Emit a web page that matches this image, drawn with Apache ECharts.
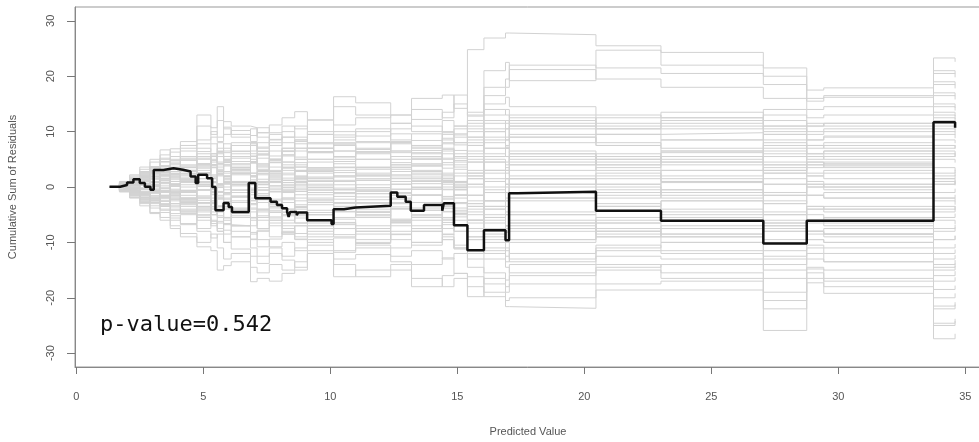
<!DOCTYPE html>
<html lang="en">

<head>
    <meta charset="UTF-8">
    <title>Cumulative Sum of Residuals</title>
    <script src="https://cdn.jsdelivr.net/npm/echarts@6.0.0/dist/echarts.min.js"></script>
    <style>
        body { margin: 0; background: #fff; }
    </style>
</head>

<body>
    <div id="main" style="width: 979px;height:442px;"></div>

    <script type="text/javascript">
        // tick labels
        let xTicks = [0, 5, 10, 15, 20, 25, 30, 35];
        let yTicks = [-30, -20, -10, 0, 10, 20, 30];

        // observed cumulative residuals (step starts at each x)
        let obsX = [1.31, 1.73, 2.0, 2.25, 2.5, 2.7, 2.92, 3.05, 3.43, 3.83, 4.2, 4.5, 4.7, 4.8, 5.15, 5.35, 5.48, 5.8, 6.0, 6.13,
            6.79, 7.05, 7.65, 7.9, 8.1, 8.3, 8.36, 8.42, 8.68, 8.74, 9.09, 10.05, 10.13, 10.54, 11.0, 12.38, 12.64, 12.97, 13.17, 13.69,
            14.41, 14.47, 14.87, 15.4, 16.05, 16.9, 17.04, 17.37, 20.46, 23.02, 27.05, 28.76, 33.75, 34.6];
        let obsY = [0.05, 0.36, 0.8, 1.4, 0.7, 0.05, -0.5, 3.07, 3.4, 3.1, 2.8, 1.9, 0.7, 2.2, 1.6, 0.0, -4.2, -2.9, -3.6, -4.5,
            0.7, -2.05, -2.65, -3.25, -3.85, -4.5, -5.4, -4.5, -5.1, -4.6, -6.0, -6.7, -4.0, -3.7, -3.4, -1.0, -1.75, -2.65, -4.3, -3.25,
            -4.3, -2.95, -6.9, -11.4, -7.8, -9.6, -1.15, -0.85, -4.3, -6.1, -10.2, -6.1, 11.7, 10.7];

        // simulated paths share these breakpoints
        let simX = [1.3, 1.7, 2.1, 2.5, 2.9, 3.3, 3.7, 4.1, 4.75, 5.3, 5.55, 5.8, 6.1, 6.86, 7.12, 7.6, 8.1, 8.6, 9.1, 10.13,
            11.0, 12.38, 13.2, 14.41, 14.87, 15.4, 16.05, 16.9, 17.05, 20.46, 23.02, 27.05, 28.76, 29.43, 33.75, 34.6];

        let sim01 = [0, 0.6, 1.8, 3.2, 4.5, 5.8, 6.9, 8.2, 13.0, 10.7, 14.5, 11.8, 11.0, 10.7, 9.8, 11.2, 12.5, 13.6, 12.1, 16.3, 15.2, 13.0, 16.0, 16.6, 14.2, 24.8, 26.9, 27.8, 27.5, 25.5, 24.3, 21.5, 17.5, 17.9, 23.3, 22.6];
        let sim02 = [0, -0.7, -1.9, -3.0, -4.6, -5.5, -7.0, -8.4, -10.8, -11.5, -15.0, -14.2, -13.5, -17.1, -16.5, -17.0, -15.6, -15.0, -12.0, -16.2, -15.0, -14.0, -18.0, -16.0, -15.6, -16.2, -19.8, -21.6, -21.9, -18.6, -18.6, -25.9, -17.3, -19.2, -27.4, -26.5];
        let sim03 = [0, 0.9, 1.5, 2.8, 3.6, 5.2, 4.8, 6.5, 7.8, 9.0, 8.2, 9.5, 10.2, 9.3, 10.7, 9.8, 11.0, 10.5, 12.1, 11.2, 12.5, 13.0, 12.2, 13.5, 16.6, 12.8, 21.0, 22.5, 19.2, 24.7, 22.0, 20.0, 15.5, 16.2, 21.0, 20.4];
        let sim04 = [0, -0.5, -1.2, -2.4, -3.8, -4.2, -5.6, -6.8, -8.0, -9.2, -8.5, -10.0, -11.2, -12.5, -13.8, -12.0, -13.2, -14.5, -11.5, -13.0, -12.2, -13.5, -14.0, -12.8, -15.6, -19.8, -16.5, -18.0, -17.5, -14.0, -15.5, -22.0, -14.8, -16.5, -24.6, -23.8];
        let sim05 = [0, 0.4, 1.0, 2.0, 3.0, 3.8, 4.5, 5.2, 6.0, 5.5, 7.0, 6.2, 7.5, 8.0, 7.2, 8.5, 9.0, 8.2, 9.5, 10.0, 9.2, 10.5, 11.0, 9.8, 10.5, 12.0, 15.0, 16.2, 14.5, 13.0, 12.5, 11.0, 9.5, 10.0, 14.5, 13.8];
        let sim06 = [0, -0.3, -0.9, -1.8, -2.5, -3.4, -4.0, -4.8, -5.5, -6.2, -7.5, -6.8, -7.0, -8.5, -7.8, -9.0, -8.2, -9.5, -10.0, -9.2, -10.5, -11.0, -10.0, -9.5, -11.2, -13.0, -15.5, -16.8, -14.0, -12.5, -13.0, -15.0, -12.0, -13.5, -18.5, -17.8];
        let sim07 = [0, 0.5, 0.2, 1.2, 2.2, 1.5, 2.8, 3.5, 2.6, 4.0, 3.2, 4.5, 5.2, 4.3, 5.8, 6.5, 5.6, 7.0, 6.2, 7.5, 6.8, 8.0, 7.2, 8.5, 7.6, 9.0, 11.5, 12.0, 10.5, 9.5, 9.8, 8.5, 7.0, 7.5, 11.0, 10.4];
        let sim08 = [0, -0.6, -0.3, -1.4, -0.8, -2.0, -1.2, -2.6, -3.5, -2.8, -4.2, -3.5, -4.8, -4.0, -5.5, -4.6, -6.0, -5.2, -6.5, -5.8, -7.0, -6.2, -7.5, -6.8, -8.0, -9.5, -11.0, -12.5, -10.0, -9.0, -8.5, -11.5, -9.5, -10.0, -14.0, -13.2];
        let sim09 = [0, 0.7, 1.2, 0.6, 1.8, 2.5, 1.8, 3.0, 4.2, 3.5, 2.8, 4.0, 3.2, 2.5, 3.8, 3.0, 4.5, 3.6, 2.8, 4.2, 3.5, 5.0, 4.2, 3.4, 4.8, 6.5, 8.0, 7.2, 6.0, 5.0, 6.2, 4.0, 3.5, 4.2, 6.5, 5.9];
        let sim10 = [0, -0.4, -1.0, -0.5, -1.6, -1.0, -2.2, -1.5, -2.8, -2.0, -3.4, -2.6, -1.8, -3.0, -2.2, -3.6, -2.8, -4.0, -3.2, -4.5, -3.6, -2.8, -4.2, -3.4, -4.8, -6.0, -7.5, -8.2, -6.5, -5.5, -6.0, -7.0, -5.0, -5.8, -9.5, -8.8];
        let sim11 = [0, 0.3, 0.8, 1.5, 0.8, 2.0, 3.2, 2.4, 3.8, 5.0, 4.2, 5.5, 4.6, 6.0, 5.2, 4.4, 5.8, 7.0, 6.2, 7.8, 7.0, 6.2, 7.5, 8.8, 8.0, 10.5, 13.0, 14.0, 12.5, 11.0, 12.0, 10.5, 8.5, 9.0, 13.0, 12.3];
        let sim12 = [0, -0.8, -1.5, -2.6, -2.0, -3.5, -4.8, -4.0, -5.5, -7.0, -6.2, -7.8, -9.0, -8.2, -9.5, -10.8, -10.0, -11.5, -10.5, -11.8, -11.0, -12.5, -11.5, -13.0, -12.0, -14.5, -17.5, -19.0, -16.0, -15.0, -16.5, -19.0, -15.5, -17.0, -22.0, -21.2];
        let sim13 = [0, 0.6, 1.4, 2.4, 3.5, 4.5, 5.5, 7.0, 8.5, 10.0, 9.0, 10.8, 9.5, 8.2, 9.8, 8.6, 10.0, 9.0, 7.8, 9.4, 8.2, 9.6, 8.4, 10.0, 9.0, 11.0, 14.0, 13.0, 11.5, 10.5, 11.0, 9.5, 8.5, 9.2, 12.5, 11.8];
        let sim14 = [0, 0.2, -0.5, 0.5, -0.8, 0.6, -1.0, 1.2, -0.5, 1.5, 0.3, -1.2, 0.8, -0.6, 1.4, 0.2, -1.0, 0.5, 1.8, 0.4, -0.8, 1.0, -0.4, 1.2, 0.0, 2.0, -2.5, -1.0, 1.5, 0.5, -1.5, 2.5, 1.0, 0.5, -4.0, -3.4];
        let sim15 = [0, -0.2, 0.6, -0.4, 1.0, -0.2, 1.6, 0.4, 2.2, 0.8, 2.8, 1.5, 0.2, 2.0, 0.8, 2.5, 1.2, 3.0, 1.6, 3.5, 2.2, 4.0, 2.8, 1.5, 3.2, 5.0, 3.0, 4.5, 6.0, 4.0, 5.5, 3.0, 4.5, 3.8, 8.5, 7.9];
        let sim16 = [0, 0.5, 1.5, 2.0, 3.5, 3.0, 2.0, 3.5, 5.0, 4.0, 6.5, 5.0, 3.5, 5.5, 4.0, 2.5, 4.0, 2.8, 4.5, 3.0, 1.5, 3.2, 1.8, 0.5, 2.0, 4.5, 1.0, 2.5, 5.0, 3.0, 2.0, 4.5, 2.5, 3.0, 0.5, 1.0];
        let sim17 = [0, -0.5, -1.5, -1.0, -2.5, -1.5, -3.0, -4.5, -3.0, -5.0, -3.5, -2.0, -4.0, -2.5, -4.5, -3.0, -5.0, -6.5, -5.0, -3.5, -5.5, -4.0, -6.0, -4.5, -3.0, -6.0, -3.5, -5.0, -8.0, -6.5, -7.5, -4.5, -6.0, -5.5, -12.0, -11.3];
        let sim18 = [0, 0.8, 0.2, 1.8, 1.0, 2.8, 4.0, 3.0, 5.5, 4.0, 2.5, 4.5, 6.0, 4.5, 3.0, 5.0, 6.5, 5.0, 7.0, 5.5, 8.0, 6.5, 5.0, 7.0, 5.5, 8.5, 6.0, 7.5, 9.5, 8.0, 7.0, 9.5, 7.5, 8.0, 15.0, 14.3];
        let sim19 = [0, -0.7, 0.0, -1.2, -2.5, -1.5, -3.0, -2.0, -4.0, -2.5, -1.0, -3.0, -4.5, -3.0, -1.5, -3.5, -2.0, -0.5, -2.5, -1.0, -3.0, -1.5, 0.0, -2.0, -0.5, -3.5, -6.0, -4.5, -2.0, -3.5, -4.5, -2.5, -4.0, -3.5, -7.5, -6.8];
        let sim20 = [0, 0.3, 1.2, 0.5, 1.5, 0.2, 1.8, 3.0, 1.5, 3.5, 2.0, 0.5, 2.5, 1.0, 2.8, 4.5, 3.0, 1.5, 3.5, 5.0, 3.5, 5.5, 4.0, 6.0, 4.5, 2.5, 5.5, 7.0, 4.0, 5.5, 6.5, 4.0, 5.5, 5.0, 2.0, 2.7];
        let sim21 = [0, -0.3, -1.1, -0.4, -1.6, -2.6, -1.5, -3.2, -2.0, -4.0, -5.5, -4.0, -2.5, -4.5, -6.0, -4.5, -6.5, -5.0, -7.0, -5.5, -4.0, -6.0, -7.5, -5.5, -7.0, -4.5, -8.0, -9.5, -7.0, -8.5, -7.5, -10.0, -8.0, -8.5, -3.5, -4.2];
        let sim22 = [0, 0.6, 1.6, 2.6, 1.8, 3.2, 2.2, 4.0, 2.5, 4.5, 6.0, 4.5, 6.5, 8.0, 6.5, 5.0, 7.0, 8.5, 7.0, 9.0, 10.5, 8.5, 7.0, 9.5, 11.0, 9.0, 12.0, 10.5, 8.0, 9.5, 8.5, 11.0, 10.0, 10.5, 16.5, 15.8];
        let sim23 = [0, -0.6, -1.6, -2.8, -1.8, -3.5, -2.5, -4.5, -6.0, -4.5, -6.5, -8.5, -7.0, -9.5, -8.0, -6.5, -8.5, -7.0, -9.0, -7.5, -9.5, -8.0, -10.0, -8.5, -10.5, -12.0, -9.5, -11.0, -13.5, -11.5, -12.0, -14.0, -13.0, -13.5, -20.0, -19.2];
        let sim24 = [0, 0.2, 0.7, -0.2, 0.9, 2.0, 1.0, 0.0, 1.5, 0.2, -1.5, 0.0, -1.8, -0.5, -2.2, -0.8, 0.8, -0.8, 1.0, -0.5, 1.2, -0.4, 1.5, 0.0, -1.5, -3.5, -1.0, 0.5, -2.0, -0.5, 0.8, -1.5, 0.0, -0.5, 5.0, 4.4];
        let sim25 = [0, -0.1, -0.8, 0.3, -0.6, 0.8, 2.2, 1.0, -0.5, 1.0, 2.5, 1.0, -0.5, -2.0, -0.5, -2.2, -0.8, 0.8, -1.0, -2.8, -1.2, 0.5, -1.5, -3.0, -1.5, 0.5, -2.5, -1.0, 1.5, 2.5, 1.0, 3.5, 2.0, 2.5, -2.0, -1.4];
        let sim26 = [0, 0.4, 1.3, 2.2, 3.2, 4.6, 3.5, 5.5, 7.0, 6.0, 8.0, 7.0, 5.5, 7.5, 6.0, 8.0, 6.5, 8.5, 10.0, 8.5, 10.0, 11.5, 10.0, 12.0, 11.0, 13.5, 18.0, 19.5, 21.2, 19.5, 18.0, 16.0, 14.0, 14.5, 19.0, 18.4];
        let sim27 = [0, -0.4, -1.3, -2.3, -3.4, -4.6, -6.0, -5.0, -7.5, -6.0, -8.0, -10.0, -9.0, -11.0, -12.5, -11.0, -12.5, -11.0, -9.5, -11.5, -10.0, -8.5, -10.5, -9.0, -11.0, -9.0, -12.0, -13.5, -12.0, -10.5, -11.5, -13.0, -11.0, -12.0, -16.0, -15.2];
        let sim28 = [0, 0.7, 0.0, 1.3, 0.4, -0.6, 0.6, -0.8, 0.8, -1.0, 0.5, 2.0, 0.8, 2.5, 1.0, -0.5, 1.2, 2.8, 1.5, 3.5, 2.0, 0.5, 2.2, 0.8, 2.5, 0.0, 3.0, 1.5, -1.0, -2.0, -0.5, -3.0, -1.5, -2.0, 2.5, 3.1];
        let sim29 = [0, -0.2, 0.5, 1.4, 2.4, 1.5, 0.4, 1.6, 3.0, 1.5, 0.0, 1.8, 3.5, 2.0, 0.5, 2.2, 0.8, -0.8, 1.0, -0.5, 1.2, 2.8, 1.0, 2.5, 4.0, 6.0, 8.5, 7.0, 9.0, 7.5, 6.5, 8.0, 6.0, 6.5, 10.5, 9.9];
        let sim30 = [0, 0.1, -0.6, -1.5, -0.5, -1.8, -3.0, -2.0, -3.5, -5.0, -3.5, -5.5, -4.0, -5.5, -4.0, -2.5, -4.0, -2.5, -1.0, -2.8, -1.2, -3.0, -1.5, -3.2, -4.8, -7.5, -10.0, -11.5, -13.0, -11.0, -10.0, -12.5, -10.5, -11.0, -6.0, -6.7];
        let sim31 = [0, 1.0, 2.2, 3.6, 5.0, 6.7, 5.5, 7.5, 11.0, 9.5, 12.0, 10.5, 9.0, 10.5, 9.0, 7.5, 9.0, 11.0, 9.5, 14.5, 13.0, 11.5, 14.0, 12.5, 15.0, 13.0, 16.5, 18.0, 22.0, 21.5, 20.5, 18.5, 16.0, 16.5, 20.5, 19.8];
        let sim32 = [0, -0.9, -2.0, -3.4, -4.8, -6.0, -7.5, -9.0, -10.0, -8.5, -11.0, -13.0, -12.0, -14.5, -15.5, -14.0, -15.0, -13.5, -12.0, -14.0, -16.2, -15.0, -16.5, -18.0, -16.5, -18.0, -19.0, -20.5, -20.0, -17.5, -17.0, -20.5, -16.5, -18.0, -25.0, -24.2];
        let sim33 = [0, 0.5, 1.1, 0.4, -0.6, -1.8, -0.8, -2.2, -3.8, -2.5, -4.0, -5.5, -7.0, -5.5, -7.5, -6.0, -4.5, -6.5, -5.0, -6.8, -8.5, -7.0, -5.5, -7.5, -6.0, -8.0, -5.0, -3.5, -6.5, -8.0, -9.0, -7.0, -8.5, -9.0, -14.5, -13.8];
        let sim34 = [0, -0.5, -0.1, 1.0, 2.0, 3.0, 4.2, 5.5, 4.0, 5.5, 4.0, 2.5, 4.0, 5.5, 4.2, 2.8, 4.5, 3.0, 5.0, 6.5, 5.0, 3.5, 5.5, 4.0, 5.5, 7.5, 10.0, 8.5, 11.0, 12.5, 13.5, 12.0, 11.0, 11.5, 17.0, 16.4];
        let sim35 = [0, 0.3, -0.3, -1.2, -2.2, -3.2, -2.0, -3.5, -5.0, -3.5, -2.0, -3.8, -5.5, -7.0, -5.5, -7.0, -8.5, -7.0, -8.5, -6.5, -8.0, -9.5, -8.0, -9.5, -11.0, -9.5, -13.0, -14.5, -15.5, -14.5, -14.0, -16.5, -14.5, -15.0, -21.5, -20.8];
        let sim36 = [0, 0.9, 2.0, 1.2, 2.5, 3.8, 2.5, 1.0, 2.5, 4.0, 5.5, 4.0, 2.5, 1.0, 2.5, 1.0, 2.5, 4.0, 2.5, 1.0, 2.5, 4.0, 2.5, 1.0, -0.5, 1.5, 4.5, 3.0, 0.5, 1.5, 3.0, 0.5, 2.0, 1.5, 7.5, 6.9];
        let sim37 = [0, -0.8, -1.8, -0.8, -2.0, -0.8, 0.5, -1.0, 0.5, 2.0, 0.5, -1.0, 0.5, 2.0, 0.5, 2.0, 3.5, 2.0, 0.5, 2.0, 3.5, 2.0, 3.8, 2.2, 0.8, -1.5, -4.0, -2.5, -5.0, -3.5, -2.5, -5.0, -3.5, -4.0, -9.5, -8.8];
        let sim38 = [0, 0.4, 1.0, 2.0, 3.0, 2.0, 3.5, 2.0, 4.0, 6.0, 4.5, 6.5, 8.0, 6.5, 8.0, 9.5, 8.0, 6.5, 8.0, 6.5, 5.0, 6.5, 5.0, 6.5, 8.0, 10.0, 7.0, 8.5, 11.0, 9.5, 10.5, 13.0, 11.0, 11.5, 7.0, 7.6];
        let sim39 = [0, -0.3, -0.9, -1.9, -1.0, -2.4, -3.6, -2.4, -4.5, -3.0, -4.5, -6.0, -4.5, -6.0, -7.5, -6.0, -7.5, -9.0, -7.5, -9.0, -7.5, -6.0, -7.5, -6.0, -4.5, -2.5, -5.5, -7.0, -4.5, -3.0, -4.0, -6.0, -4.0, -4.5, 1.0, 0.3];
        let sim40 = [0, 0.2, 0.9, 1.9, 0.9, 2.3, 1.0, 2.5, 1.0, -0.5, -2.0, -0.5, 1.0, -0.5, -2.0, -3.5, -2.0, -3.5, -5.0, -3.5, -5.0, -6.5, -5.0, -3.5, -5.0, -3.0, -0.5, -2.0, 0.5, 2.0, 1.0, -1.5, 0.5, 0.0, -5.5, -4.8];
        let sim41 = [0, 0.3, 0.6, 1.2, 1.9, 1.2, 2.4, 1.4, 0.4, 1.8, 0.6, 2.0, 3.2, 1.8, 3.0, 1.6, 0.2, 1.6, 0.2, -1.2, 0.4, -1.0, 0.6, 2.0, 0.5, 3.0, 5.0, 3.5, 2.0, 3.5, 4.5, 2.5, 4.0, 3.5, 9.5, 8.8];
        let sim42 = [0, -0.2, -0.7, -1.4, -0.6, -1.6, -0.6, -2.0, -0.6, 0.8, -0.8, 0.6, -1.0, 0.4, -1.2, 0.2, 1.6, 0.2, -1.4, -0.2, -1.8, -0.4, 1.0, -0.5, 1.0, -1.5, 1.5, 0.0, -2.5, -1.0, -2.0, 0.5, -1.5, -1.0, 3.5, 2.8];
        let sim43 = [0, 0.5, 1.2, 2.2, 3.4, 2.2, 3.6, 4.8, 3.4, 4.8, 6.2, 4.8, 3.2, 4.6, 3.2, 4.8, 3.4, 1.8, 3.4, 2.0, 3.6, 2.2, 3.8, 5.2, 3.6, 5.5, 2.5, 4.0, 6.5, 5.0, 4.0, 6.5, 5.0, 5.5, 12.0, 11.3];
        let sim44 = [0, -0.6, -1.3, -2.1, -3.0, -2.0, -3.4, -2.2, -3.6, -5.0, -3.6, -2.2, -3.8, -2.4, -4.0, -5.4, -4.0, -5.6, -4.2, -2.8, -4.4, -5.8, -4.2, -5.8, -4.2, -6.5, -9.0, -7.5, -5.0, -6.5, -5.5, -8.0, -6.5, -7.0, -13.0, -12.3];
        let sim45 = [0, 0.1, 0.5, 1.0, 0.3, -0.6, -1.6, -0.6, -2.0, -0.8, -2.2, -1.0, 0.4, -1.0, 0.4, 1.8, 0.4, 1.8, 3.2, 1.8, 3.2, 1.6, 3.0, 1.6, 0.2, 2.5, 0.0, 1.5, 4.0, 5.5, 4.5, 7.0, 5.5, 6.0, 0.5, 1.2];
        let sim46 = [0, -0.4, -0.2, 0.6, 1.4, 2.6, 1.4, 2.8, 4.2, 5.6, 4.2, 2.8, 4.2, 5.6, 7.0, 5.6, 7.0, 5.4, 7.0, 5.4, 6.8, 8.2, 6.6, 5.0, 6.6, 4.5, 7.0, 5.5, 3.0, 4.5, 5.5, 3.0, 4.5, 4.0, 10.0, 9.4];
        let sim47 = [0, 0.4, -0.2, -1.0, -2.0, -3.0, -4.2, -3.0, -1.6, -3.0, -4.4, -3.0, -1.6, -0.2, -1.6, -0.2, 1.2, -0.2, 1.2, 2.6, 1.2, 2.8, 1.2, -0.4, 1.0, -1.5, -4.0, -2.5, 0.0, -1.5, -0.5, -3.0, -1.5, -2.0, -8.0, -7.3];
        let sim48 = [0, -0.1, 0.4, -0.3, 0.5, 1.3, 0.3, -0.7, 0.5, -0.9, 0.5, 1.9, 0.5, -0.9, -2.3, -0.9, -2.3, -3.7, -2.3, -3.9, -2.3, -3.9, -5.5, -3.9, -5.4, -3.0, -5.5, -7.0, -9.5, -8.0, -9.0, -6.5, -8.0, -7.5, -2.0, -2.6];
        let sim49 = [0, 0.6, 1.3, 0.6, -0.2, 0.8, -0.4, 0.8, 2.2, 0.8, 2.2, 0.8, -0.6, 0.8, 2.2, 3.6, 2.2, 3.6, 5.0, 3.6, 2.0, 3.6, 5.2, 6.8, 5.2, 7.5, 10.0, 11.5, 9.0, 7.5, 8.5, 6.0, 7.5, 7.0, 1.5, 2.2];
        let sim50 = [0, -0.5, -1.0, -0.2, -1.0, -1.8, -3.0, -4.2, -2.8, -1.4, 0.0, -1.4, -2.8, -1.4, -2.8, -4.2, -2.8, -1.4, -2.8, -4.4, -2.8, -1.2, -2.8, -4.4, -2.8, -5.0, -2.5, -1.0, 1.5, 0.0, -1.0, 1.5, 0.0, 0.5, -4.5, -3.9];
        let sim51 = [0, 0.2, 1.0, 1.8, 2.8, 3.8, 5.0, 3.8, 5.2, 3.8, 2.4, 3.8, 2.4, 1.0, 2.4, 1.0, -0.4, 1.0, -0.4, 1.2, -0.4, -2.0, -0.4, 1.2, -0.4, 1.5, -1.0, 0.5, -2.0, -3.5, -2.5, -5.0, -3.5, -4.0, 1.5, 0.9];
        let sim52 = [0, -0.3, -0.6, -1.3, -2.2, -3.2, -2.2, -1.0, -2.4, -3.8, -5.2, -6.6, -5.2, -3.8, -5.2, -3.8, -5.2, -3.6, -2.0, -3.6, -5.2, -3.6, -5.2, -3.6, -2.0, -4.0, -6.5, -8.0, -6.0, -7.5, -8.5, -6.5, -8.0, -8.5, -15.0, -14.3];
        let sim53 = [0, 0.5, 0.9, 1.6, 2.6, 1.6, 0.4, 1.6, 0.2, 1.6, 3.0, 4.4, 3.0, 4.4, 5.8, 4.4, 5.8, 4.4, 3.0, 4.6, 6.2, 7.8, 6.2, 7.8, 9.4, 7.5, 10.5, 9.0, 12.0, 10.5, 11.5, 14.0, 12.5, 13.0, 18.5, 17.8];
        let sim54 = [0, -0.7, -1.4, -2.2, -1.2, -0.2, -1.4, -2.8, -4.2, -2.8, -4.2, -5.6, -7.0, -5.6, -4.2, -5.6, -7.0, -8.4, -7.0, -8.6, -10.2, -8.6, -7.0, -8.6, -7.0, -9.0, -11.5, -10.0, -7.5, -9.0, -10.0, -8.0, -9.5, -10.0, -17.0, -16.3];
        let sim55 = [0, 0.2, 0.2, 0.9, 0.1, 1.1, 0.1, 1.3, 0.1, -1.3, -0.1, 1.3, 2.7, 1.3, -0.1, 1.3, -0.1, 1.3, -0.1, -1.7, -0.1, 1.5, -0.1, -1.7, -0.1, 2.0, 4.5, 3.0, 5.5, 4.0, 3.0, 5.5, 4.0, 4.5, -1.0, -0.3];
        let sim56 = [0, -0.4, 0.3, 1.0, 0.2, -0.8, -1.8, -0.6, -1.8, -0.4, -1.8, -3.2, -1.8, -3.2, -1.8, -3.2, -4.6, -3.2, -4.6, -3.0, -4.6, -3.0, -1.4, -3.0, -1.4, 0.5, 3.0, 1.5, -1.0, 0.5, 1.5, -1.0, 0.5, 0.0, 6.0, 5.4];
        let sim57 = [0, 0.7, 1.6, 2.5, 3.7, 5.0, 6.3, 5.0, 6.4, 7.8, 6.4, 7.8, 6.4, 7.8, 6.4, 5.0, 6.4, 7.8, 6.4, 7.6, 6.0, 4.4, 6.0, 4.4, 6.0, 8.0, 5.5, 7.0, 4.5, 6.0, 5.0, 7.5, 6.0, 6.5, 13.5, 12.8];
        let sim58 = [0, -0.5, -0.8, -1.6, -2.8, -4.0, -5.2, -6.6, -5.2, -6.6, -8.0, -6.6, -8.0, -9.4, -10.8, -9.4, -8.0, -9.4, -8.0, -6.4, -8.0, -6.4, -8.0, -6.4, -8.0, -6.0, -8.5, -7.0, -9.5, -8.0, -7.0, -9.5, -8.0, -8.5, -2.5, -3.2];
        let sim59 = [0, 0.4, 0.9, 1.7, 2.6, 3.6, 2.4, 3.6, 2.2, 0.8, 2.2, 0.8, 2.2, 0.8, -0.6, 0.8, -0.6, -2.0, -0.6, -2.2, -0.6, -2.2, -3.8, -2.2, -3.8, -6.0, -3.5, -5.0, -7.5, -6.0, -5.0, -7.5, -6.0, -6.5, -11.0, -10.3];
        let sim60 = [0, -0.2, -0.9, -0.2, 0.8, -0.2, 1.0, 2.2, 3.6, 2.2, 3.6, 5.0, 3.6, 5.0, 3.6, 5.0, 3.6, 5.0, 6.4, 8.0, 6.4, 8.0, 9.6, 8.0, 9.6, 11.5, 9.0, 10.5, 13.0, 11.5, 12.5, 10.0, 11.5, 11.0, 5.5, 6.2];

        let simPaths = [sim01, sim02, sim03, sim04, sim05, sim06, sim07, sim08, sim09, sim10,
            sim11, sim12, sim13, sim14, sim15, sim16, sim17, sim18, sim19, sim20,
            sim21, sim22, sim23, sim24, sim25, sim26, sim27, sim28, sim29, sim30,
            sim31, sim32, sim33, sim34, sim35, sim36, sim37, sim38, sim39, sim40,
            sim41, sim42, sim43, sim44, sim45, sim46, sim47, sim48, sim49, sim50,
            sim51, sim52, sim53, sim54, sim55, sim56, sim57, sim58, sim59, sim60];

        let myChart = echarts.init(document.getElementById('main'));

        let axisText = { fontFamily: 'Liberation Sans', fontSize: 11, color: '#555' };

        // gray simulated paths first, black observed path on top
        let series = simPaths.map((path, k) => ({
            name: 'sim' + (k + 1),
            type: 'line',
            step: 'end',
            showSymbol: false,
            silent: true,
            z: 1,
            lineStyle: { color: '#d2d2d2', width: 1 },
            data: simX.map((x, i) => [x, path[i]])
        }));

        series.push({
            name: 'observed',
            type: 'line',
            step: 'end',
            showSymbol: false,
            silent: true,
            z: 5,
            lineStyle: { color: '#111', width: 2.5 },
            data: obsX.map((x, i) => [x, obsY[i]])
        });

        let options = {
            animation: false,
            backgroundColor: '#fff',
            grid: {
                left: 75, right: -2, top: 7, bottom: 75,
                show: true, borderColor: '#999', borderWidth: 1,
                outerBoundsMode: 'none'
            },
            xAxis: {
                type: 'value',
                min: -0.05,
                max: 35.62,
                name: 'Predicted Value',
                nameLocation: 'middle',
                nameGap: 59,
                nameTextStyle: axisText,
                splitLine: { show: false },
                axisLine: { onZero: false, lineStyle: { color: '#888' } },
                axisTick: { length: 7, lineStyle: { color: '#777' }, customValues: xTicks },
                axisLabel: Object.assign({ margin: 24, customValues: xTicks }, axisText)
            },
            yAxis: {
                type: 'value',
                min: -32.5,
                max: 32.5,
                name: 'Cumulative Sum of Residuals',
                nameLocation: 'middle',
                nameGap: 57,
                nameTextStyle: axisText,
                splitLine: { show: false },
                axisLine: { show: true, onZero: false, lineStyle: { color: '#888' } },
                axisTick: { show: true, length: 8, lineStyle: { color: '#777' }, customValues: yTicks },
                axisLabel: Object.assign({ margin: 19, rotate: 90, customValues: yTicks }, axisText)
            },
            graphic: [{
                type: 'text',
                left: 100,
                top: 314,
                style: {
                    text: 'p-value=0.542',
                    font: '22px "DejaVu Sans Mono"',
                    fill: '#111'
                }
            }],
            series: series
        };

        myChart.setOption(options);
    </script>
</body>

</html>
